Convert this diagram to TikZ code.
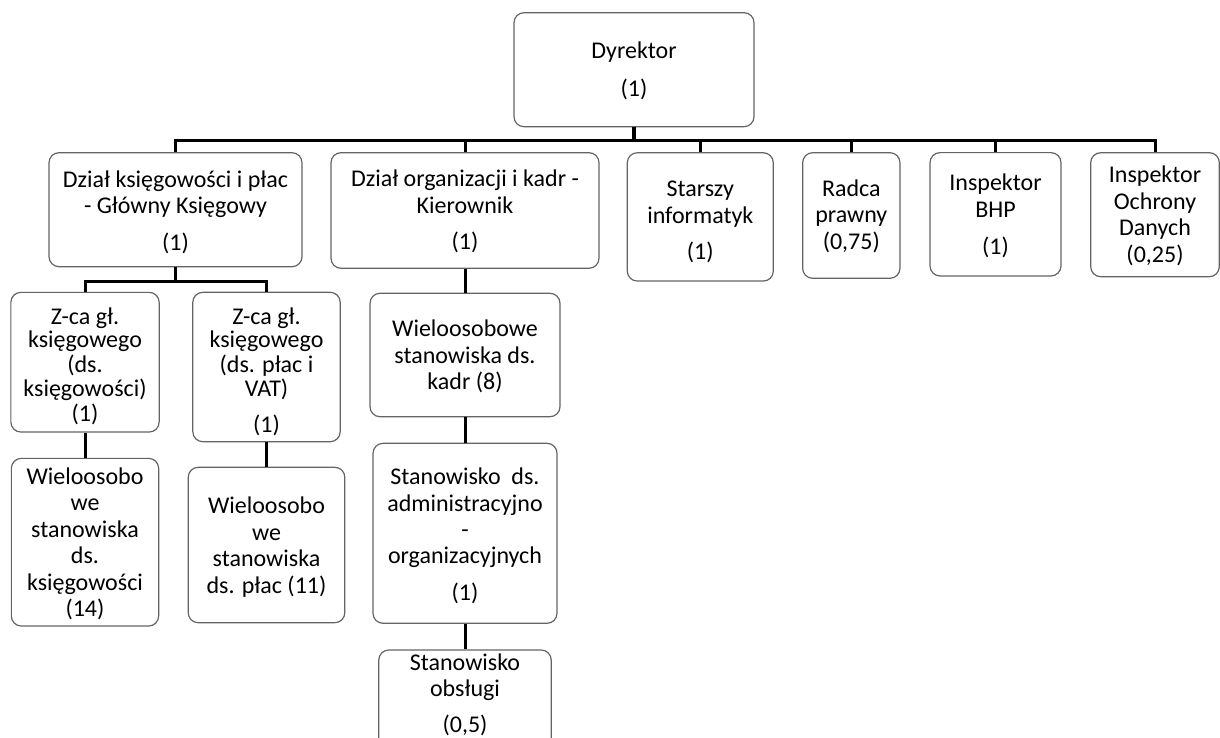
\documentclass[tikz,border=0pt]{standalone}
\usepackage{fontspec}
\setmainfont{Carlito}
\newcommand\Tx[3][1]{\raisebox{#2}[\height][\depth]{\def\arraystretch{#1}\begin{tabular}{@{}c@{}}#3\end{tabular}}}
\definecolor{boxgray}{RGB}{100,100,100}
\tikzset{
  box/.style={draw=boxgray, line width=1.2pt, rounded corners=10pt, inner sep=0pt,
    font=\fontsize{24}{26.4}\selectfont},
  conn/.style={line width=3pt, black}
}
\begin{document}
\begin{tikzpicture}[x=1pt,y=-1pt]
\useasboundingbox (0,0) rectangle (1220,738);
\clip (0,0) rectangle (1220,738);
% top
\node[box, minimum width=240pt, minimum height=114pt] (dyr) at (634,69.7) {\Tx{-2.5pt}{Dyrektor\\[11.2pt](1)}};
% level 1
\node[box, minimum width=253pt, minimum height=114pt] (ks) at (175.5,209.7) {\Tx{-4pt}{Dział księgowości i płac\\- Główny Księgowy\\[10.9pt](1)}};
\node[box, minimum width=268pt, minimum height=115.6pt] (org) at (465,210.5) {\Tx{-2.6pt}{Dział organizacji i kadr -\\Kierownik\\[10.3pt](1)}};
\node[box, minimum width=146pt, minimum height=128.3pt] (sta) at (700.3,216.9) {\Tx{-6.2pt}{Starszy\\informatyk\\[10.3pt](1)}};
\node[box, minimum width=97.3pt, minimum height=125.6pt] (rad) at (851.3,215.5) {\Tx{-2.1pt}{Radca\\prawny\\(0,75)}};
\node[box, minimum width=131pt, minimum height=123.3pt] (bhp) at (995.5,214.3) {\Tx{-2.9pt}{Inspektor\\BHP\\[10.6pt](1)}};
\node[box, minimum width=128.6pt, minimum height=124pt] (iod) at (1155,214.7) {\Tx{-2.5pt}{Inspektor\\Ochrony\\Danych\\(0,25)}};
% level 2 - ksiegowosc
\node[box, minimum width=148.3pt, minimum height=139.7pt] (z1) at (85,362.2) {\Tx[0.8826]{-5.7pt}{Z-ca gł.\\księgowego\\(ds.\\księgowości)\\(1)}};
\node[box, minimum width=147.4pt, minimum height=149.4pt] (z2) at (266.5,367) {\Tx[0.8826]{-6.3pt}{Z-ca gł.\\księgowego\\(ds. płac i\\VAT)\\[10.8pt](1)}};
\node[box, minimum width=147.3pt, minimum height=167.7pt] (w1) at (85,542.2) {\Tx{-3pt}{Wieloosobo\\we\\stanowiska\\ds.\\księgowości\\(14)}};
\node[box, minimum width=156.6pt, minimum height=155.4pt] (w2) at (266.5,545) {\Tx{-3.2pt}{Wieloosobo\\we\\stanowiska\\ds. płac (11)}};
% level 2 - organizacja
\node[box, minimum width=190pt, minimum height=123.4pt] (kadr) at (465,355) {\Tx{-3pt}{Wieloosobowe\\stanowiska ds.\\kadr (8)}};
\node[box, minimum width=184pt, minimum height=180pt] (stan) at (465,533.3) {\Tx{-4.2pt}{Stanowisko\ \ ds.\\administracyjno\\-\\organizacyjnych\\[10.6pt](1)}};
\node[box, minimum width=172.4pt, minimum height=110pt] (obs) at (465,705) {\Tx{8.9pt}{Stanowisko\\obsługi\\[9.6pt](0,5)}};
% connectors
\coordinate (bus) at (0,141);
\coordinate (kbus) at (0,281);
\draw[conn, line width=4pt] (dyr.south) -- (dyr.south |- bus);
\draw[conn] (ks.north) |- (iod.north |- bus) -- (iod.north);
\draw[conn] (org.north) -- (org.north |- bus);
\draw[conn] (sta.north) -- (sta.north |- bus);
\draw[conn] (rad.north) -- (rad.north |- bus);
\draw[conn] (bhp.north) -- (bhp.north |- bus);
\draw[conn] (ks.south) -- (ks.south |- kbus);
\draw[conn] (z1.north) |- (z2.north |- kbus) -- (z2.north);
\draw[conn] (z1.south) -- (w1.north);
\draw[conn] (z2.south) -- (w2.north);
\draw[conn] (org.south) -- (kadr.north);
\draw[conn] (kadr.south) -- (stan.north);
\draw[conn] (stan.south) -- (obs.north);
\end{tikzpicture}
\end{document}
